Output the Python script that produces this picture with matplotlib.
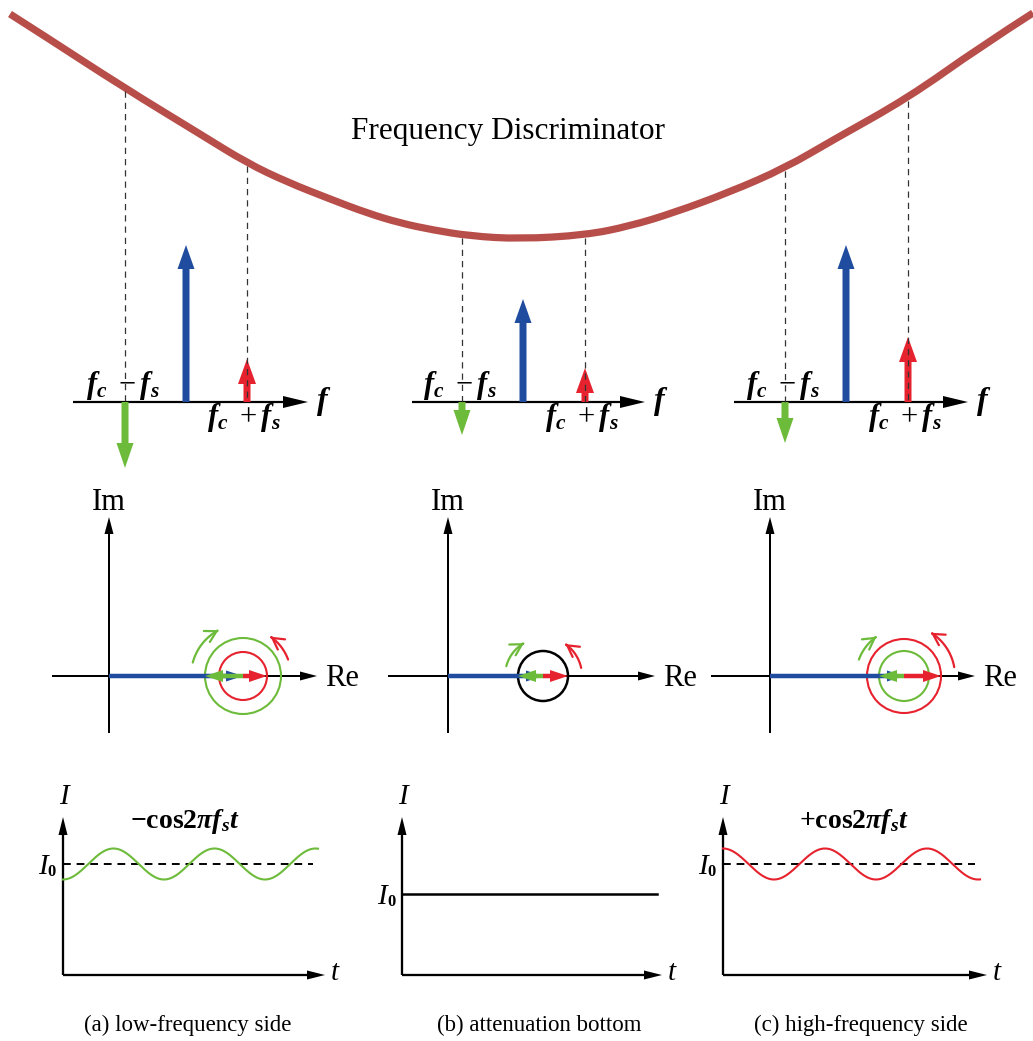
import numpy as np
import matplotlib
matplotlib.use('Agg')
import matplotlib.pyplot as plt
from matplotlib.patches import FancyArrowPatch, Circle, PathPatch
from matplotlib.path import Path

plt.rcParams['mathtext.fontset'] = 'custom'
plt.rcParams['mathtext.rm'] = 'Liberation Serif'
plt.rcParams['mathtext.it'] = 'Liberation Serif:italic'
plt.rcParams['mathtext.bf'] = 'Liberation Serif:bold'
plt.rcParams['mathtext.bfit'] = 'Liberation Serif:italic:bold'
plt.rcParams['font.family'] = ['Liberation Serif', 'DejaVu Serif']

# ---------------- data (pixel units) ----------------
title = 'Frequency Discriminator'
curve_x = [10, 43, 123, 200, 247, 287, 330, 367, 400, 433, 470, 520, 586, 630, 673, 730, 785, 833, 908, 980, 1033]
curve_y = [14, 35, 87, 134, 163, 182, 199, 213, 223, 230, 236, 239, 235, 226, 213, 192, 168, 140, 98, 47, 13]

captions = ['(a) low-frequency side', '(b) attenuation bottom', '(c) high-frequency side']
# spectrum line amplitudes (carrier, lower sideband fc-fs (negative), upper sideband fc+fs)
carrier_amp = [157, 103, 157]
lower_amp = [-66, -33, -41]
upper_amp = [43, 34, 65]
# phasor: carrier length, lower sideband radius, upper sideband radius
phasor_carrier = [134, 95, 134]
phasor_lower = [38, 25, 25]
phasor_upper = [24, 25, 37]
# detected current: sign of cos term, amplitude, period, I0 level above t-axis
wave_sign = [-1, 0, 1]
wave_amp = [15.5, 0, 15.5]
wave_period = [101, 101, 102]
i0_level = [111, 81, 111]
wave_labels = [r'$\mathbf{-cos2}\mathbfit{\pi f_{s} t}$', '', r'$\mathbf{+cos2}\mathbfit{\pi f_{s} t}$']

# ---------------- layout ----------------
BLUE = '#1f4c9e'
GREEN = '#6dbb3a'
RED = '#e6222e'
CURVE = '#b84e4a'

spec_y = 402
spec_x0 = [73, 412, 734]
spec_tip = [308, 645, 968]
spec_fl = [125, 462, 785]
spec_fc = [186, 523, 846]
spec_fu = [247, 585, 908]

ph_y = 676
ph_ox = [109, 448, 770]
ph_left = [52, 388, 711]
ph_tip = [317, 655, 975]
ph_top = 517
ph_bot = 733
green_arc = [(52, 165, 118), (38, 165, 120), (48, 160, 125)]
red_arc = [(48, 20, 55), (39, 12, 55), (51, 10, 58)]

bt_y = 975
bt_ox = [63, 402, 723]
bt_tip = [325, 662, 987]
bt_top = 817
wave_end = [318, 657, 980]
cap_x = [188, 539, 861]
label_x = [185, 0, 854]

fig = plt.figure(figsize=(10.33, 10.41), dpi=100)
ax = fig.add_axes([0, 0, 1, 1])
ax.set_xlim(0, 1033)
ax.set_ylim(1041, 0)
ax.axis('off')

# discriminator curve: smooth quadratic-Bezier path through the read points
pts = list(zip(curve_x, curve_y))
verts = [pts[0]]
codes = [Path.MOVETO]
for k in range(1, len(pts) - 1):
    mid = ((pts[k][0] + pts[k + 1][0]) / 2, (pts[k][1] + pts[k + 1][1]) / 2)
    if k == len(pts) - 2:
        mid = pts[-1]
    verts += [pts[k], mid]
    codes += [Path.CURVE3, Path.CURVE3]
ax.add_patch(PathPatch(Path(verts, codes), fill=False, ec=CURVE, lw=5.2, capstyle='butt', zorder=3))
ax.text(508, 131, title, ha='center', va='center', fontsize=22.5)

def arrow(x, y, dx, dy, w, hw, hl, color, z=4):
    ax.arrow(x, y, dx, dy, width=w, head_width=hw, head_length=hl,
             length_includes_head=True, color=color, lw=0, zorder=z)

lab_lo = r'$\mathbfit{f}_{\mathbfit{c}}\ -\mathbfit{f}_{\mathbfit{s}}$'
lab_hi = r'$\mathbfit{f}_{\mathbfit{c}}\ +\mathbfit{f}_{\mathbfit{s}}$'

for i in range(3):
    # ---- spectrum ----
    arrow(spec_x0[i], spec_y, spec_tip[i] - spec_x0[i], 0, 2.2, 12, 25, 'k', z=3)
    arrow(spec_fl[i], spec_y, 0, -lower_amp[i], 7, 17, 25, GREEN)
    arrow(spec_fc[i], spec_y, 0, -carrier_amp[i], 7, 17, 24, BLUE)
    arrow(spec_fu[i], spec_y, 0, -upper_amp[i], 7, 18, 25, RED)
    for xx in (spec_fl[i], spec_fu[i]):
        ytop = np.interp(xx, curve_x, curve_y)
        ax.plot([xx, xx], [ytop + 3, spec_y], color='#333333', lw=0.9,
                ls=(0, (5, 4)), zorder=5)
    ax.text(spec_fl[i] - 2, 385, lab_lo, ha='center', va='center', fontsize=22)
    ax.text(spec_fu[i] - 3, 418, lab_hi, ha='center', va='center', fontsize=22)
    ax.text(spec_tip[i] + 16, spec_y, r'$\mathbfit{f}$', ha='center', va='center', fontsize=23)

    # ---- phasor ----
    ox = ph_ox[i]
    cx = ox + phasor_carrier[i]
    arrow(ph_left[i], ph_y, ph_tip[i] - ph_left[i], 0, 2.0, 9, 17, 'k', z=3)
    arrow(ox, ph_bot, 0, ph_top - ph_bot, 2.0, 9, 17, 'k', z=3)
    ax.text(ox, 502, 'Im', ha='center', va='center', fontsize=22)
    ax.text(ph_tip[i] + 25, ph_y + 2, 'Re', ha='center', va='center', fontsize=22)
    if phasor_lower[i] == phasor_upper[i]:
        ax.add_patch(Circle((cx, ph_y), phasor_lower[i], fill=False, lw=1.8, ec='k', zorder=4))
    else:
        ax.add_patch(Circle((cx, ph_y), phasor_lower[i], fill=False, lw=1.5, ec=GREEN, zorder=4))
        ax.add_patch(Circle((cx, ph_y), phasor_upper[i], fill=False, lw=1.5, ec=RED, zorder=4))
    arrow(ox, ph_y, phasor_carrier[i], 0, 4.5, 11, 17, BLUE, z=5)
    arrow(cx, ph_y, -phasor_lower[i], 0, 4.5, 12, 18, GREEN, z=6)
    arrow(cx, ph_y, phasor_upper[i], 0, 4.5, 12, 18, RED, z=7)
    for (r, a0, a1), col in ((green_arc[i], GREEN), (red_arc[i], RED)):
        th = np.radians(np.linspace(a0, a1, 40))
        apts = np.column_stack([cx + r * np.cos(th), ph_y - r * np.sin(th)])
        ax.add_patch(FancyArrowPatch(path=Path(apts), arrowstyle='->,head_length=0.8,head_width=0.45',
                                     mutation_scale=10, color=col, lw=1.6, shrinkA=0, shrinkB=0, zorder=6))

    # ---- detected current ----
    bx = bt_ox[i]
    arrow(bx, bt_y, bt_tip[i] - bx, 0, 2.3, 9, 18, 'k', z=3)
    arrow(bx, bt_y, 0, bt_top - bt_y, 2.3, 9, 18, 'k', z=3)
    ax.text(bx + 1, 797, 'I', ha='center', va='center', fontsize=21, style='italic')
    ax.text(bt_tip[i] + 10, bt_y - 2, 't', ha='center', va='center', fontsize=21, style='italic')
    lev = bt_y - i0_level[i]
    ax.text(bx - 20, lev + 3, 'I', ha='center', va='center', fontsize=21, style='italic')
    ax.text(bx - 11, lev + 8, '0', ha='center', va='center', fontsize=12, weight='bold')
    if wave_amp[i] > 0:
        ax.plot([bx, wave_end[i] - 5], [lev, lev], color='k', lw=1.4, ls=(0, (4, 3)), zorder=3)
        xs = np.linspace(bx, wave_end[i], 400)
        ys = lev - wave_sign[i] * wave_amp[i] * np.cos(2 * np.pi * (xs - bx) / wave_period[i])
        ax.plot(xs, ys, color=GREEN if wave_sign[i] < 0 else RED, lw=1.5, zorder=4)
        ax.text(label_x[i], 822, wave_labels[i], ha='center', va='center', fontsize=20)
    else:
        ax.plot([bx, wave_end[i]], [lev, lev], color='k', lw=1.8, zorder=3)
    ax.text(cap_x[i], 1025, captions[i], ha='center', va='center', fontsize=16.5)

fig.savefig('out.png', dpi=100)
